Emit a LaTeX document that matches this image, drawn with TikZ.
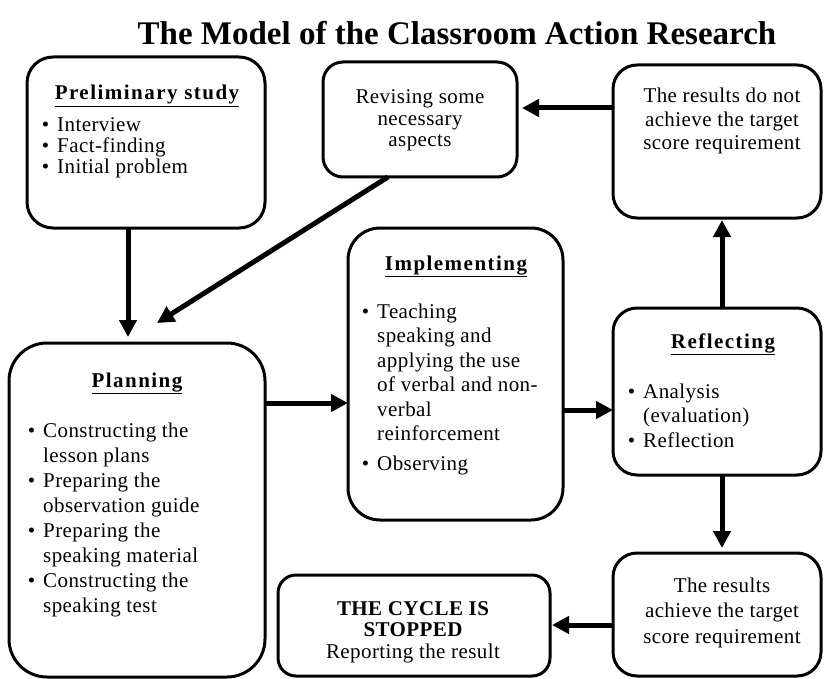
\documentclass[tikz,border=0pt]{standalone}
\usepackage{fontspec}
\setmainfont{Liberation Serif}
\usetikzlibrary{arrows.meta}
\newcommand\Cl[1]{\hbox to 0pt{\hss#1\hss}}
\newcommand\Bl[1]{\hbox{\llap{\textbullet\hspace{8pt}}#1}}
\newcommand\Pl[1]{\hbox{#1}}
\newcommand\Hd[1]{{\bfseries\addfontfeature{LetterSpace=7}\underline{#1}}}
\begin{document}
\begin{tikzpicture}[x=1pt,y=-1pt,
  box/.style={draw,line width=3pt,inner sep=0pt,outer sep=0pt},
  txt/.style={inner sep=0pt,anchor=base,font=\fontsize{21}{24}\selectfont\addfontfeature{LetterSpace=2}},
  arr/.style={line width=5pt,-{Triangle[length=17pt,width=17pt]}}]
\useasboundingbox (0,0) rectangle (824,679);
% boxes
\node[box,rounded corners=26pt,minimum width=238pt,minimum height=171pt] (prelim) at (146,142.5) {};
\node[box,rounded corners=20pt,minimum width=194pt,minimum height=115pt] (revise) at (420,119.5) {};
\node[box,rounded corners=24pt,minimum width=208pt,minimum height=153pt] (notach) at (717,141.5) {};
\node[box,rounded corners=32pt,minimum width=215pt,minimum height=292pt] (impl) at (455.5,374) {};
\node[box,rounded corners=38pt,minimum width=256pt,minimum height=334pt] (plan) at (137,510) {};
\node[box,rounded corners=24pt,minimum width=208pt,minimum height=167pt] (refl) at (717,391.5) {};
\node[box,rounded corners=24pt,minimum width=208pt,minimum height=123pt] (ach) at (717,614.5) {};
\node[box,rounded corners=18pt,minimum width=272pt,minimum height=101pt] (stop) at (414,625.5) {};
% title
\node[inner sep=0pt,anchor=base,font=\fontsize{33}{36}\selectfont\bfseries] (title) at (457,45) {The Model of the Classroom Action Research};
% texts
\node[txt] (prelimH) at (147,100) {\Hd{Preliminary study}};
\node[txt,anchor=base west] (prelimT) at (57,132) {\vtop{\baselineskip=21pt
  \Bl{Interview}\Bl{Fact-finding}\Bl{Initial problem}}};
\node[txt] (reviseT) at (420,104) {\vtop{\baselineskip=21.5pt
  \Cl{Revising some}\Cl{necessary}\Cl{aspects}}};
\node[txt] (notachT) at (722,103) {\vtop{\baselineskip=23.5pt
  \Cl{The results do not}\Cl{achieve the target}\Cl{score requirement}}};
\node[txt] (implH) at (456,270) {\Hd{Implementing}};
\node[txt,anchor=base west] (implT) at (377,318) {\vtop{\baselineskip=24.5pt
  \Bl{Teaching}\Pl{speaking and}\Pl{applying the use}\Pl{of verbal and non-}\Pl{verbal}\Pl{reinforcement}\vskip5pt\Bl{Observing}}};
\node[txt] (planH) at (137,387) {\Hd{Planning}};
\node[txt,anchor=base west] (planT) at (43,437) {\vtop{\baselineskip=25.1pt
  \Bl{Constructing the}\Pl{lesson plans}\Bl{Preparing the}\Pl{observation guide}\Bl{Preparing the}\Pl{speaking material}\Bl{Constructing the}\Pl{speaking test}}};
\node[txt] (reflH) at (723,348) {\Hd{Reflecting}};
\node[txt,anchor=base west] (reflT) at (643,398) {\vtop{\baselineskip=24.5pt
  \Bl{Analysis}\Pl{(evaluation)}\Bl{Reflection}}};
\node[txt] (achT) at (722,592) {\vtop{\baselineskip=25.5pt
  \Cl{The results}\Cl{achieve the target}\Cl{score requirement}}};
\node[txt] (stopT) at (413,615) {\vtop{\baselineskip=21.5pt
  \Cl{\bfseries THE CYCLE IS}\Cl{\bfseries STOPPED}\Cl{Reporting the result}}};
% arrows
\draw[arr,shorten >=6pt] ([xshift=-18pt]prelim.south) -- ([xshift=-9pt]plan.north);
\draw[arr] ([xshift=-32pt]revise.south) -- ([xshift=20pt,yshift=20pt]plan.north);
\draw[arr,shorten >=5pt] ([yshift=33.5pt]notach.west) -- ([yshift=11.5pt]revise.east);
\draw[arr,shorten >=2pt] ([xshift=5pt]refl.north) -- ([xshift=5pt]notach.south);
\draw[arr] ([yshift=107pt]plan.east) -- ([yshift=-29pt]impl.west);
\draw[arr] ([yshift=-36pt]impl.east) -- ([yshift=-18.5pt]refl.west);
\draw[arr,shorten >=5pt] ([xshift=5pt]refl.south) -- ([xshift=5pt]ach.north);
\draw[arr,shorten >=2pt] ([yshift=-10.5pt]ach.west) -- ([yshift=0.5pt]stop.east);
\end{tikzpicture}
\end{document}
